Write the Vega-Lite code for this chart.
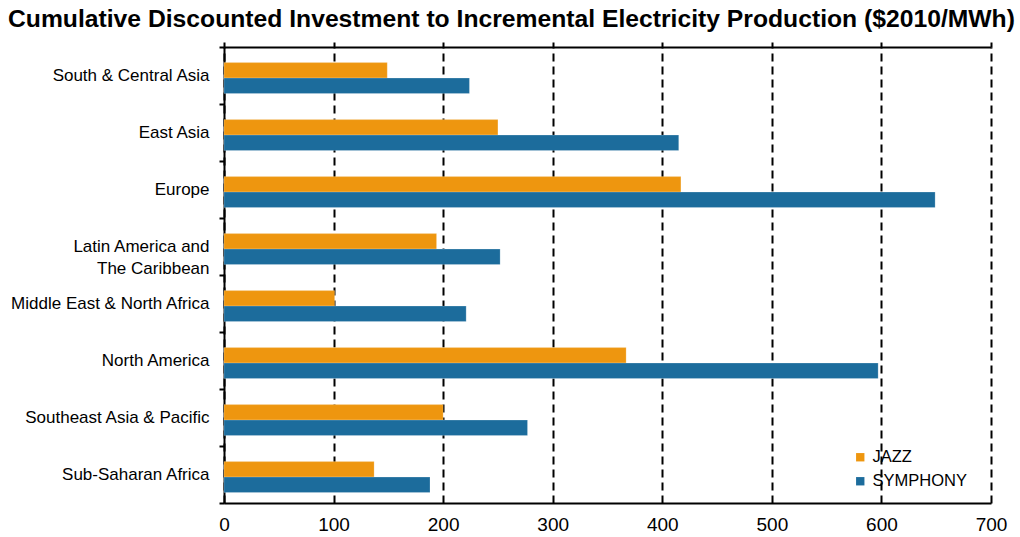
{
  "$schema": "https://vega.github.io/schema/vega-lite/v6.json",
  "width": 767,
  "height": 456,
  "autosize": "none",
  "padding": {"left": 224, "top": 47, "right": 29, "bottom": 34},
  "background": "white",
  "title": {
    "text": "Cumulative Discounted Investment to Incremental Electricity Production ($2010/MWh)",
    "anchor": "start",
    "frame": "group",
    "dx": -216,
    "offset": 6,
    "font": "Liberation Sans",
    "fontSize": 24.7,
    "fontWeight": "bold",
    "color": "black"
  },
  "config": {
    "view": {"stroke": null},
    "font": "Liberation Sans"
  },
  "data": {
    "values": [
      {"region": "South & Central Asia", "scenario": "JAZZ", "value": 149},
      {"region": "South & Central Asia", "scenario": "SYMPHONY", "value": 224},
      {"region": "East Asia", "scenario": "JAZZ", "value": 250},
      {"region": "East Asia", "scenario": "SYMPHONY", "value": 415},
      {"region": "Europe", "scenario": "JAZZ", "value": 417},
      {"region": "Europe", "scenario": "SYMPHONY", "value": 649},
      {"region": "Latin America and The Caribbean", "scenario": "JAZZ", "value": 194},
      {"region": "Latin America and The Caribbean", "scenario": "SYMPHONY", "value": 252},
      {"region": "Middle East & North Africa", "scenario": "JAZZ", "value": 101},
      {"region": "Middle East & North Africa", "scenario": "SYMPHONY", "value": 221},
      {"region": "North America", "scenario": "JAZZ", "value": 367},
      {"region": "North America", "scenario": "SYMPHONY", "value": 597},
      {"region": "Southeast Asia & Pacific", "scenario": "JAZZ", "value": 200},
      {"region": "Southeast Asia & Pacific", "scenario": "SYMPHONY", "value": 277},
      {"region": "Sub-Saharan Africa", "scenario": "JAZZ", "value": 137},
      {"region": "Sub-Saharan Africa", "scenario": "SYMPHONY", "value": 188}
    ]
  },
  "resolve": {"axis": {"x": "independent"}},
  "layer": [
    {
      "mark": {"type": "bar", "stroke": "white", "strokeWidth": 0.5, "strokeOpacity": 0.4},
      "encoding": {
        "y": {
          "field": "region",
          "type": "nominal",
          "sort": null,
          "scale": {"paddingInner": 0, "paddingOuter": 0},
          "axis": {
            "title": null,
            "domainColor": "black",
            "domainWidth": 2,
            "tickBand": "extent",
            "tickColor": "black",
            "tickWidth": 2,
            "tickSize": 5,
            "labelFont": "Liberation Sans",
            "labelFontSize": 17,
            "labelColor": "black",
            "labelPadding": 10,
            "labelLineHeight": 22,
            "labelLimit": 300,
            "labelExpr": "datum.label == 'Latin America and The Caribbean' ? ['Latin America and', 'The Caribbean'] : datum.label"
          }
        },
        "yOffset": {
          "field": "scenario",
          "type": "nominal",
          "sort": ["JAZZ", "SYMPHONY"],
          "scale": {"paddingInner": 0, "paddingOuter": 0.84, "align": 0.6}
        },
        "x": {
          "field": "value",
          "type": "quantitative",
          "scale": {"domain": [0, 700], "nice": false, "zero": true},
          "axis": {
            "title": null,
            "orient": "bottom",
            "values": [0, 100, 200, 300, 400, 500, 600, 700],
            "grid": true,
            "gridColor": "black",
            "gridWidth": 2,
            "gridDash": [8, 5],
            "gridOpacity": 1,
            "domainColor": "black",
            "domainWidth": 2,
            "ticks": false,
            "labelFont": "Liberation Sans",
            "labelFontSize": 19,
            "labelColor": "black",
            "labelPadding": 12,
            "labelFlush": false
          }
        },
        "color": {
          "field": "scenario",
          "type": "nominal",
          "scale": {"domain": ["JAZZ", "SYMPHONY"], "range": ["#EE960F", "#1C6C9C"]},
          "legend": {
            "title": null,
            "orient": "none",
            "legendX": 628,
            "legendY": 402,
            "symbolType": "square",
            "symbolSize": 70,
            "symbolStrokeWidth": 0,
            "labelFont": "Liberation Sans",
            "labelFontSize": 16.5,
            "labelColor": "black",
            "labelOffset": 4,
            "rowPadding": 7
          }
        }
      }
    },
    {
      "mark": {"type": "bar", "opacity": 0},
      "encoding": {
        "y": {"field": "region", "type": "nominal", "sort": null},
        "x": {
          "field": "value",
          "type": "quantitative",
          "axis": {
            "title": null,
            "orient": "top",
            "values": [0, 100, 200, 300, 400, 500, 600, 700],
            "grid": false,
            "labels": false,
            "domainColor": "black",
            "domainWidth": 2,
            "ticks": true,
            "tickColor": "black",
            "tickWidth": 2,
            "tickSize": 5
          }
        }
      }
    }
  ]
}
